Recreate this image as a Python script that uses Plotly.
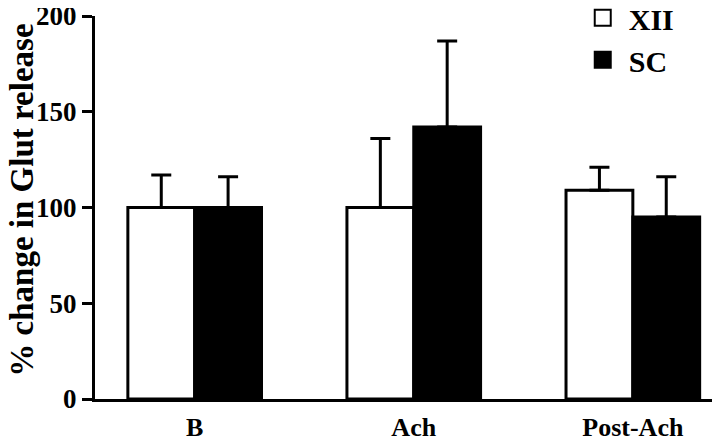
import plotly.graph_objects as go

categories = ["B", "Ach", "Post-Ach"]
xii_values = [100, 100, 109]
xii_errors = [17, 36, 12]
sc_values = [100, 142, 95]
sc_errors = [16, 45, 21]

font_family = "Liberation Serif"

fig = go.Figure()

fig.add_trace(go.Bar(
    x=categories,
    y=xii_values,
    name="XII",
    marker=dict(color="white", line=dict(color="black", width=3)),
    error_y=dict(type="data", array=xii_errors, arrayminus=[0, 0, 0], symmetric=False,
                 color="black", thickness=3, width=10),
    showlegend=False,
))
fig.add_trace(go.Bar(
    x=categories,
    y=sc_values,
    name="SC",
    marker=dict(color="black", line=dict(color="black", width=3)),
    error_y=dict(type="data", array=sc_errors, arrayminus=[0, 0, 0], symmetric=False,
                 color="black", thickness=3, width=10),
    showlegend=False,
))

# legend-only entries with large square markers
fig.add_trace(go.Scatter(
    x=[None], y=[None], mode="markers", name="XII",
    marker=dict(symbol="square", size=18, color="white", line=dict(color="black", width=2)),
))
fig.add_trace(go.Scatter(
    x=[None], y=[None], mode="markers", name="SC",
    marker=dict(symbol="square", size=18, color="black", line=dict(color="black", width=2)),
))

# page body has an 8px margin, so margins are shifted to compensate
fig.update_layout(
    width=720,
    height=441,
    margin=dict(l=87, r=13, t=8, b=50, autoexpand=False),
    plot_bgcolor="white",
    paper_bgcolor="white",
    barmode="group",
    bargap=0.39,
    bargroupgap=0,
    font=dict(family=font_family, color="black", size=25, weight="bold"),
    legend=dict(
        x=0.777, y=1.063, xanchor="left", yanchor="top",
        font=dict(family=font_family, size=30, weight="bold"),
        bgcolor="rgba(0,0,0,0)",
        itemsizing="trace",
        itemwidth=42,
        tracegroupgap=0,
    ),
    annotations=[dict(
        text="% change in Glut release", textangle=-90,
        xref="paper", yref="paper", x=-0.118, y=0.52,
        xanchor="center", yanchor="middle", showarrow=False,
        font=dict(family=font_family, size=33, weight="bold"),
    )],
)

fig.update_xaxes(
    range=[-0.455, 2.375],
    showline=True, linecolor="black", linewidth=3,
    ticks="", ticklabelstandoff=3,
    tickfont=dict(family=font_family, size=26, weight="bold"),
    showgrid=False,
)
fig.update_yaxes(
    range=[0, 200],
    tickvals=[0, 50, 100, 150, 200],
    showline=True, linecolor="black", linewidth=3,
    ticks="outside", ticklen=10, tickwidth=3, tickcolor="black",
    ticklabeloverflow="allow",
    tickfont=dict(family=font_family, size=27, weight="bold"),
    showgrid=False, zeroline=False,
)

fig.write_html("out.html")
